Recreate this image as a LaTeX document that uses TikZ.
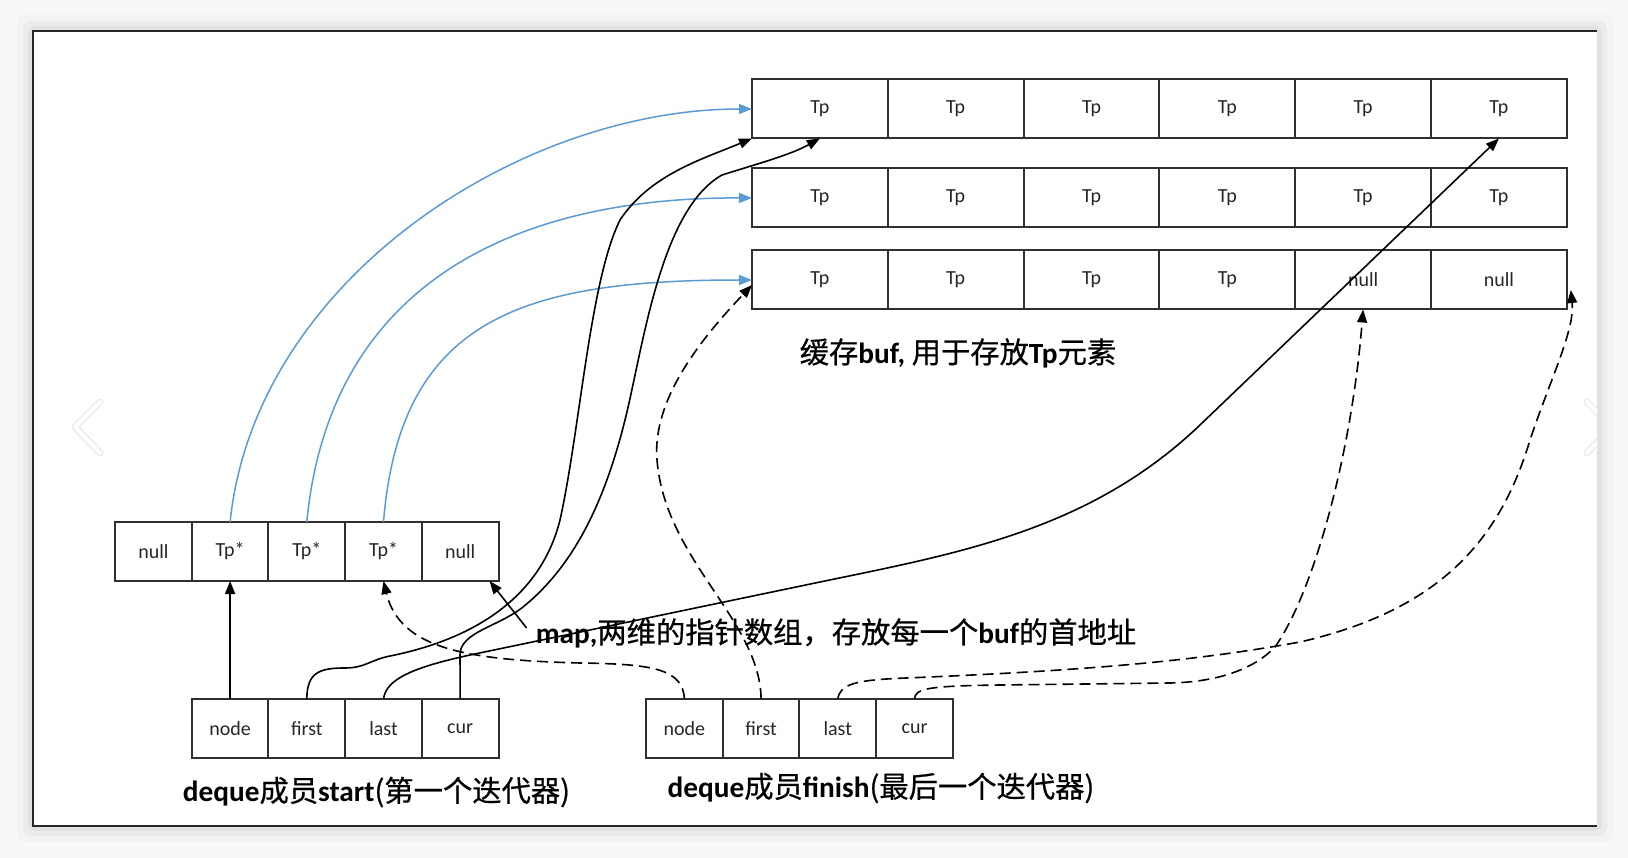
\documentclass[tikz,border=0pt]{standalone}
\usepackage{fontspec}
\setmainfont{Carlito}
\newfontfamily\cjk[FakeBold=0.6]{Noto Sans CJK SC}
\usetikzlibrary{positioning, arrows.meta}
\definecolor{ptrblue}{RGB}{91,155,213}
\definecolor{cellline}{RGB}{48,48,48}
\definecolor{pagebg}{RGB}{248,248,248}
\newcommand{\enbf}[1]{{\normalfont\bfseries #1}}
\tikzset{
  cell/.style={
    draw=cellline, line width=2pt, fill=white, minimum height=59pt,
    inner sep=0pt, outer sep=0pt, text=black!85,
    font=\fontsize{20}{24}\selectfont
  },
  buf cell/.style={cell, minimum width=135.8pt},
  map cell/.style={cell, minimum width=76.7pt},
  ptr/.style={draw, line width=1.6pt, -{Triangle[length=13pt, width=10pt]}},
  map ptr/.style={ptr, draw=ptrblue, line width=1.5pt},
  weak ptr/.style={ptr, dash pattern=on 11pt off 6pt},
  caption/.style={inner sep=0pt, font=\fontsize{29.3}{34}\selectfont\cjk},
}
\begin{document}
\begin{tikzpicture}[x=1pt, y=-1pt]
  \useasboundingbox (0,0) rectangle (1628,858);
  % page and frame
  \fill[pagebg] (0,0) rectangle (1628,858);
  \foreach \d/\o in {16/0.02, 10/0.03, 5/0.04}
    \fill[black, opacity=\o, rounded corners=8pt] (33-\d,31-\d) rectangle (1597+\d,826+\d);
  \fill[white] (33,31) rectangle (1597,826);
  \draw[black!85, line width=1.3pt] (1597,31) -- (33,31) -- (33,826) -- (1597,826);
  \draw[black!8, line width=7pt, line cap=round, line join=round] (100,402) -- (75,427) -- (100,453);
  \draw[white, line width=4pt, line cap=round, line join=round] (100,402) -- (75,427) -- (100,453);
  \begin{scope}
    \clip (33,31) rectangle (1597,826);
    \draw[black!8, line width=7pt, line cap=round, line join=round] (1587,402) -- (1612,427) -- (1587,453);
    \draw[white, line width=4pt, line cap=round, line join=round] (1587,402) -- (1612,427) -- (1587,453);
  \end{scope}

  % buffers
  \node[buf cell] (B11) at (819.9,109) {Tp};
  \node[buf cell, below=30pt of B11] (B21) {Tp};
  \node[buf cell, below=23pt of B21] (B31) {Tp};
  \foreach \c/\t [count=\p] in {2/Tp,3/Tp,4/Tp,5/Tp,6/Tp} {
    \node[buf cell, right=0pt of B1\p] (B1\c) {\t};
    \node[buf cell, right=0pt of B2\p] (B2\c) {\t};
  }
  \foreach \c/\t [count=\p] in {2/Tp,3/Tp,4/Tp,5/null,6/null}
    \node[buf cell, right=0pt of B3\p] (B3\c) {\t};

  % map
  \node[map cell] (M1) at (153.4,551.5) {null};
  \foreach \c/\t [count=\p] in {2/Tp*,3/Tp*,4/Tp*,5/null}
    \node[map cell, right=0pt of M\p] (M\c) {\t};

  % iterators
  \node[map cell, below=118pt of M2] (S1) {node};
  \foreach \c/\t [count=\p] in {2/first,3/last,4/cur}
    \node[map cell, right=0pt of S\p] (S\c) {\t};
  \node[map cell, right=147.5pt of S4] (F1) {node};
  \foreach \c/\t [count=\p] in {2/first,3/last,4/cur}
    \node[map cell, right=0pt of F\p] (F\c) {\t};

  % captions
  \node[caption] (buflbl) at (958,353) {缓存\enbf{buf,} 用于存放\enbf{Tp}元素};
  \node[caption] (maplbl) at (836,633) {\enbf{map,}两维的指针数组，存放每一个\enbf{buf}的首地址};
  \node[caption] (startlbl) at (376.5,792) {\enbf{deque}成员\enbf{start}(第一个迭代器)};
  \node[caption] (finishlbl) at (881,788) {\enbf{deque}成员\enbf{finish}(最后一个迭代器)};

  % map -> buffers
  \draw[map ptr] (M2.north) .. controls (255,280) and (520,109) .. (B11.west);
  \draw[map ptr] (M3.north) .. controls (330,280) and (520,197) .. (B21.west);
  \draw[map ptr] (M4.north) .. controls (400,320) and (520,280) .. (B31.west);

  % start
  \draw[ptr] (S1) -- (M2);
  \draw[ptr] (S2.north) .. controls (307,672) and (320,668) .. (345,668)
    .. controls (365,668) and (370,660) .. (390,656)
    .. controls (470,640) and (540,600) .. (560,520)
    .. controls (580,430) and (590,280) .. (620,220)
    .. controls (650,175) and (700,160) .. (B11.south west);
  \draw[ptr] (S3.north) .. controls (386,680) and (410,668) .. (470,655) -- (820,582)
    .. controls (960,553) and (1090,530) .. (1200,425) -- (B16.south);
  \draw[ptr] (S4.north) -- (460,655) .. controls (460,632) and (498,627) .. (523,607)
    .. controls (575,565) and (605,500) .. (625,420)
    .. controls (643,348) and (660,210) .. (722,175)
    .. controls (760,163) and (790,155) .. (B11.south);
  \draw[ptr] ([shift={(-9pt,5pt)}]maplbl.west) -- ([xshift=-9pt]M5.south east);

  % finish
  \draw[weak ptr] (F1.north) .. controls (683,668) and (650,664) .. (580,663)
    .. controls (470,660) and (400,650) .. (M4.south);
  \draw[weak ptr] (F2.north) .. controls (760,620) and (665,560) .. (657,460)
    .. controls (652,400) and (700,340) .. ([yshift=-5pt]B31.west);
  \draw[weak ptr] (F3.north) .. controls (840,684) and (855,680) .. (906,678)
    .. controls (1100,670) and (1200,660) .. (1300,642)
    .. controls (1440,610) and (1500,540) .. (1530,440)
    .. controls (1550,380) and (1575,330) .. ([shift={(4pt,-10pt)}]B36.east);
  \draw[weak ptr] (F4.north) .. controls (915,688) and (930,686) .. (1000,685) -- (1170,683)
    .. controls (1220,682) and (1255,668) .. (1275,647)
    .. controls (1315,590) and (1352,450) .. (B35.south);
\end{tikzpicture}
\end{document}
